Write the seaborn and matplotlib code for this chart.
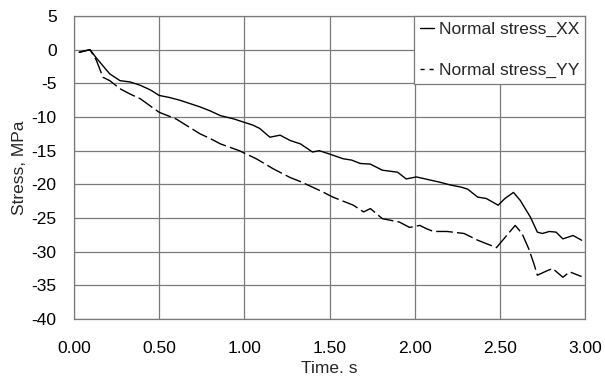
import numpy as np
import pandas as pd
import matplotlib
matplotlib.use("Agg")
import matplotlib.pyplot as plt
import seaborn as sns

# Stress vs time
time_xx = [0.03, 0.06, 0.094, 0.13, 0.17, 0.21, 0.27, 0.33, 0.39, 0.45, 0.50, 0.56, 0.62, 0.68, 0.74,
           0.80, 0.86, 0.94, 1.00, 1.05, 1.09, 1.15, 1.21, 1.27, 1.33, 1.40, 1.44, 1.50, 1.58, 1.63,
           1.68, 1.74, 1.81, 1.90, 1.95, 2.01, 2.08, 2.15, 2.21, 2.27, 2.31, 2.37, 2.42, 2.49, 2.53,
           2.58, 2.62, 2.68, 2.72, 2.75, 2.79, 2.83, 2.87, 2.93, 2.98]
stress_xx = [-0.4, -0.2, 0.0, -1.2, -2.4, -3.6, -4.6, -4.8, -5.3, -6.0, -6.8, -7.1, -7.5, -8.0, -8.5,
             -9.1, -9.8, -10.3, -10.8, -11.2, -11.7, -13.0, -12.7, -13.5, -14.0, -15.2, -15.0, -15.5, -16.2, -16.4,
             -16.9, -17.0, -17.9, -18.2, -19.2, -18.9, -19.3, -19.7, -20.1, -20.4, -20.7, -21.9, -22.1, -23.1, -22.1,
             -21.2, -22.4, -24.9, -27.1, -27.3, -27.0, -27.1, -28.1, -27.6, -28.3]

time_yy = [0.03, 0.06, 0.094, 0.13, 0.17, 0.21, 0.27, 0.33, 0.39, 0.45, 0.50, 0.60, 0.67, 0.74, 0.80,
           0.86, 0.97, 1.07, 1.17, 1.27, 1.33, 1.39, 1.45, 1.52, 1.64, 1.70, 1.74, 1.81, 1.91, 1.97,
           2.03, 2.07, 2.11, 2.19, 2.29, 2.37, 2.42, 2.48, 2.54, 2.59, 2.63, 2.67, 2.70, 2.72, 2.78,
           2.81, 2.87, 2.91, 2.98]
stress_yy = [-0.4, -0.2, 0.0, -1.5, -4.1, -4.6, -5.8, -6.6, -7.3, -8.4, -9.3, -10.3, -11.4, -12.5, -13.2,
             -14.0, -15.0, -16.2, -17.7, -19.0, -19.6, -20.3, -21.0, -21.9, -23.1, -24.1, -23.6, -25.1, -25.6, -26.4,
             -26.1, -26.6, -27.0, -27.0, -27.3, -28.3, -28.8, -29.4, -27.6, -26.1, -27.3, -29.6, -31.8, -33.5, -32.8,
             -32.5, -33.8, -33.0, -33.7]

series_names = ["Normal stress_XX", "Normal stress_YY"]

df = pd.concat([
    pd.DataFrame({"Time": time_xx, "Stress": stress_xx, "Series": series_names[0]}),
    pd.DataFrame({"Time": time_yy, "Stress": stress_yy, "Series": series_names[1]}),
], ignore_index=True)

sns.set_style("white")
plt.rcParams["font.family"] = ["Liberation Sans", "DejaVu Sans"]
plt.rcParams["axes.unicode_minus"] = False

fig = plt.figure(figsize=(6.05, 3.79), dpi=100)
ax = fig.add_axes([0.1223, 0.1583, 0.967 - 0.1223, 0.9578 - 0.1583])

sns.lineplot(data=df, x="Time", y="Stress", style="Series", style_order=series_names,
             dashes={series_names[0]: "", series_names[1]: (12, 3)},
             color="black", linewidth=1.0, sort=False, ax=ax)

ax.set_xlim(0, 3.0)
ax.set_ylim(-40, 5)
ax.set_xticks(np.arange(0, 3.01, 0.5))
ax.set_xticklabels([f"{v:.2f}" for v in np.arange(0, 3.01, 0.5)])
ax.set_yticks(np.arange(-40, 6, 5))
ax.grid(True, color="#7a7a7a", linewidth=0.9)
for s in ax.spines.values():
    s.set_color("#7a7a7a")
    s.set_linewidth(0.9)
ax.tick_params(axis="both", direction="out", length=5, color="#7a7a7a", width=0.9,
               labelsize=12.5, labelcolor="black")
ax.tick_params(axis="x", pad=10.5)
ax.tick_params(axis="y", pad=7.5)
ax.set_xlabel("Time. s", fontsize=12.5, labelpad=4)
ax.set_ylabel("Stress, MPa", fontsize=12.5, labelpad=3)

leg = ax.legend(loc="upper right", borderaxespad=0, fancybox=False, framealpha=1,
                edgecolor="#7a7a7a", fontsize=12.5, handlelength=0.8, handletextpad=0.3,
                labelspacing=1.5, borderpad=0.32)
leg.get_frame().set_linewidth(0.9)
leg.get_lines()[1].set_dashes((3, 3.5))

fig.savefig("out.png", dpi=100)
